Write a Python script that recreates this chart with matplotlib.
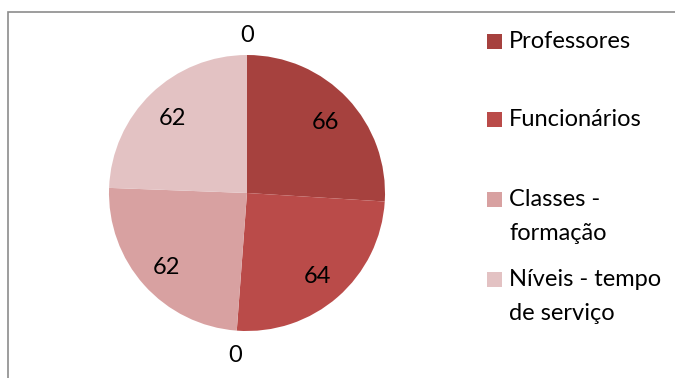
import matplotlib
matplotlib.use("Agg")
import matplotlib.pyplot as plt
from matplotlib.patches import Rectangle
import numpy as np

categories = ["Professores", "Funcionários", "", "Classes - formação", "Níveis - tempo de serviço", ""]
values = [66, 64, 0, 62, 62, 0]
colors = ["#A6413E", "#BA4B49", "#BA4B49", "#D8A1A1", "#E3C2C3", "#E3C2C3"]
legend_lines = {"Classes - formação": ["Classes -", "formação"],
                "Níveis - tempo de serviço": ["Níveis - tempo", "de serviço"]}

W, H = 675, 378
plt.rcParams['font.family'] = ['Lato', 'DejaVu Sans']
fig = plt.figure(figsize=(W / 100, H / 100), dpi=100)

def fx(px):
    return px / W

def fy(py):
    return 1 - py / H

# pie axes, centre (247,193), radius 138 px
cx, cy, r = 247, 193, 138
ax = fig.add_axes([fx(cx - r), fy(cy + r), 2 * r / W, 2 * r / H])
wedges, _ = ax.pie(values, colors=colors, startangle=90, counterclock=False,
                   radius=1, wedgeprops=dict(linewidth=0))
ax.set_xlim(-1, 1)
ax.set_ylim(-1, 1)
ax.set_aspect('auto')
ax.axis('off')

for w, v in zip(wedges, values):
    ang = np.deg2rad((w.theta1 + w.theta2) / 2)
    d = 0.78 if v > 0 else 1.16
    ax.text(d * np.cos(ang), d * np.sin(ang) - 0.02, str(v), ha='center', va='center',
            fontsize=17, color='black', clip_on=False)

# chart border
fig.add_artist(Rectangle((fx(8), -0.5), 2, fy(12) + 0.5, transform=fig.transFigure,
                         fill=False, edgecolor='#8C8C8C', linewidth=1.2))

# legend
ys = [41, 119, 199, 279]
i = 0
for name, c in zip(categories, colors):
    if not name:
        continue
    y = ys[i]
    i += 1
    fig.add_artist(Rectangle((fx(487), fy(y + 7.5)), 15 / W, 15 / H,
                             transform=fig.transFigure, facecolor=c, edgecolor='none'))
    for k, line in enumerate(legend_lines.get(name, [name])):
        fig.text(fx(509), fy(y + k * 35), line, ha='left', va='center',
                 fontsize=17, color='black')

fig.savefig("out.png", dpi=100)
